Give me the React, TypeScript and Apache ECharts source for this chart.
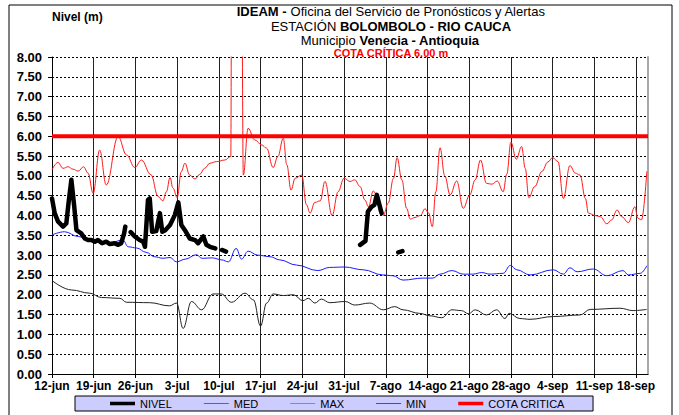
import React, { useEffect, useRef } from "react";
import * as echarts from "echarts";

// x values are days counted from 12-jun
const xTickLabels = ["12-jun", "19-jun", "26-jun", "3-jul", "10-jul", "17-jul", "24-jul", "31-jul", "7-ago", "14-ago", "21-ago", "28-ago", "4-sep", "11-sep", "18-sep"];

const nivel: (number | null)[][] = [
  [0, 4.43], [0.45, 4.06], [1, 3.85], [1.85, 3.72], [2.4, 3.8], [2.8, 4.35], [3.25, 4.9], [3.7, 4.27], [4.1, 3.63], [4.9, 3.55], [5.5, 3.42], [6.05, 3.38], [6.6, 3.38], [7.2, 3.34], [7.7, 3.38], [8.4, 3.3], [9.1, 3.34], [9.7, 3.28], [10.5, 3.3], [11.1, 3.26], [11.6, 3.3], [12.1, 3.55], [12.3, 3.72],
  [12.7, null],
  [13.2, 3.58], [13.9, 3.47], [14.7, 3.38], [15.3, 3.34], [15.6, 3.21], [16.1, 4.39], [16.4, 4.43], [16.8, 3.59], [17.5, 3.61], [18.1, 4.06], [18.5, 3.59], [19, 3.63], [19.8, 3.76], [20.6, 4.01], [21.2, 4.33], [21.7, 3.76], [22.3, 3.63], [23.1, 3.42], [24, 3.38], [24.5, 3.3], [25.4, 3.47], [25.9, 3.26], [26.5, 3.21], [27.4, 3.17],
  [28, null],
  [28.5, 3.13], [29.2, 3.09],
  [40, null],
  [51.7, 3.26], [52.6, 3.36], [53, 4.1], [53.6, 4.22], [54.1, 4.27], [54.5, 4.52], [55.3, 4.06],
  [56.5, null],
  [58.1, 3.07], [58.8, 3.1],
];

const med: number[][] = [
  [0, 3.51], [2.1, 3.59], [4.4, 3.47], [7, 3.34], [9.5, 3.3], [11.9, 3.38], [12.8, 3.21], [14.2, 3.18], [15.8, 3.07], [17.2, 2.96], [18.6, 2.92], [19.8, 2.94], [20.9, 2.83], [22.4, 2.9], [24.2, 3.01], [25.2, 2.92], [26.9, 2.93], [28.5, 2.88], [29.6, 2.83], [30.9, 3.17], [31.8, 2.9], [32.9, 3.1], [34.5, 3.0], [36.6, 2.96], [38.2, 2.88], [41, 2.75], [44.6, 2.61], [46.6, 2.69], [49.1, 2.7], [52.2, 2.63], [55.5, 2.5], [57.2, 2.48], [58.9, 2.37], [62.2, 2.42], [63.9, 2.42], [65.1, 2.52], [67.1, 2.61], [69, 2.52], [70.6, 2.52], [72.1, 2.56], [73.5, 2.52], [75.7, 2.54], [76.9, 2.74], [78, 2.63], [80.2, 2.5], [84.1, 2.63], [85.8, 2.52], [86.9, 2.68], [88.1, 2.58], [90.8, 2.65], [93.1, 2.48], [95.8, 2.61], [96.7, 2.5], [98.7, 2.54], [99.8, 2.73],
];

const max: number[][] = [
  [0, 5.15], [1, 5.34], [1.85, 5.19], [2.7, 5.23], [3.5, 5.17], [4.4, 5.12], [5.3, 5.23], [6.05, 5.07], [6.9, 4.56], [8, 5.65], [9.1, 4.77], [11.1, 5.99], [12.5, 5.53], [13.9, 5.21], [15, 5.4], [16.6, 5.03], [17.8, 4.48], [18.6, 4.37], [19.2, 4.6], [19.8, 4.96], [20.3, 4.69], [21, 4.45], [21.7, 5.11], [22.3, 5.32], [23.1, 5.02], [24, 4.92], [24.8, 5.04], [25.6, 5.19], [26.5, 5.32], [27.6, 5.36], [29, 5.4], [30, 5.49], [30.15, 11], [31.8, 11], [32.1, 5.02], [32.9, 6.2], [34, 5.91], [35.2, 5.78], [36, 5.7], [37.1, 5.21], [37.9, 5.49], [38.8, 5.95], [39.4, 5.28], [40.1, 4.64], [40.8, 4.94], [41.9, 5.02], [42.7, 4.27], [43.3, 4.06], [44.1, 4.33], [45, 4.37], [45.8, 4.86], [47, 4.0], [48, 4.6], [49, 4.94], [50, 4.86], [50.8, 4.9], [51.7, 4.73], [52.5, 4.39], [53.1, 4.22], [53.9, 4.62], [54.5, 4.52], [55, 4.08], [55.6, 4.0], [56.4, 4.31], [57.3, 4.94], [57.9, 5.46], [58.7, 4.9], [59.5, 4.18], [60.1, 3.91], [60.9, 3.95], [61.8, 4.0], [62.6, 4.17], [63.2, 4.06], [63.8, 3.72], [64.4, 4.6], [65.1, 5.71], [65.9, 5.0], [66.8, 4.52], [67.9, 4.87], [69, 4.18], [70.1, 4.52], [71, 4.9], [71.9, 5.4], [72.9, 4.81], [73.8, 4.79], [74.7, 4.87], [75.7, 4.6], [76.3, 5.04], [77, 5.85], [77.9, 5.42], [78.8, 5.74], [79.4, 5.19], [80, 4.45], [81, 4.73], [82.2, 5.11], [83.2, 5.35], [84, 5.46], [84.9, 5.36], [85.8, 4.43], [86.9, 5.26], [87.8, 5.07], [88.6, 5.02], [89.5, 4.43], [90, 4.06], [91.1, 4.0], [92, 3.97], [93.1, 3.79], [93.9, 3.89], [94.8, 4.14], [95.6, 3.97], [96.7, 3.82], [97.8, 4.22], [98.3, 3.93], [98.9, 3.89], [99.8, 5.11],
];

const min: number[][] = [
  [0, 2.36], [3.3, 2.12], [6.3, 2.04], [8.3, 1.93], [11.4, 1.91], [12.5, 1.81], [16.4, 1.8], [19.7, 1.72], [20.9, 1.79], [22, 1.15], [23.4, 1.83], [25.1, 1.62], [27, 2.02], [28.4, 2.02], [30.1, 1.81], [32.4, 2.04], [33.8, 1.87], [35, 1.21], [36, 1.79], [37.1, 2.02], [38.8, 1.98], [40.5, 2.0], [42.1, 1.85], [43, 1.91], [44.1, 1.79], [45.2, 1.89], [46.6, 1.8], [49.2, 1.83], [50.8, 1.74], [53.3, 1.79], [55.6, 1.62], [57.5, 1.7], [58.9, 1.62], [61.7, 1.53], [63.4, 1.47], [65.4, 1.42], [67.1, 1.62], [68.7, 1.6], [69.9, 1.52], [71, 1.62], [72.9, 1.49], [74.6, 1.62], [76, 1.4], [76.7, 1.53], [78.5, 1.4], [80.2, 1.38], [84.1, 1.45], [88.6, 1.49], [90.3, 1.63], [95.3, 1.66], [97.5, 1.6], [99.8, 1.63],
];

const cotaCritica: number[][] = [[0, 6], [100, 6]];

const FONT = "'Liberation Sans', Arial, sans-serif";

// legend icons: invisible corner specks fix the 25x10 box, the bar is the visible line
const ICON_THIN = "path://M0,0h0.01v0.01h-0.01z M24.99,9.99h0.01v0.01h-0.01z M0,4.4h25v1.2h-25z";
const ICON_THICK = "path://M0,0h0.01v0.01h-0.01z M24.99,9.99h0.01v0.01h-0.01z M0,3.2h25v3.6h-25z";

export default function App() {
  const ref = useRef<HTMLDivElement>(null);
  useEffect(() => {
    document.body.style.margin = "0";
    if (!ref.current) return;
    const chart = echarts.init(ref.current, null, { renderer: "svg" });
    const titleRich = {
      b: { fontFamily: FONT, fontSize: 13, fontWeight: "bold", fill: "#000", lineHeight: 13 },
      n: { fontFamily: FONT, fontSize: 13, fill: "#000", lineHeight: 13 },
    };
    chart.setOption({
      animation: false,
      backgroundColor: "#fff",
      grid: { left: 52, right: 31, top: 57, bottom: 41, containLabel: false },
      legend: {
        left: 75,
        bottom: 4,
        backgroundColor: "#ccccff",
        borderColor: "#000",
        borderWidth: 1,
        borderRadius: 0,
        padding: [2, 28, 2, 35],
        itemGap: 32,
        itemWidth: 25,
        itemHeight: 10,
        selectedMode: false,
        textStyle: { fontFamily: FONT, fontSize: 11, color: "#000" },
        data: [
          { name: "NIVEL", icon: ICON_THICK, itemStyle: { color: "#000" } },
          { name: "MED", icon: ICON_THIN, itemStyle: { color: "#5555ff" } },
          { name: "MAX", icon: ICON_THIN, itemStyle: { color: "#e8607a" } },
          { name: "MIN", icon: ICON_THIN, itemStyle: { color: "#555" } },
          { name: "COTA CRITICA", icon: ICON_THICK, itemStyle: { color: "#ff0000" } },
        ],
      },
      xAxis: {
        type: "value",
        min: 0,
        max: 100,
        interval: 7,
        axisLine: { lineStyle: { color: "#000", width: 1 } },
        axisTick: { show: true, length: 4, lineStyle: { color: "#000" } },
        axisLabel: {
          fontFamily: FONT,
          fontSize: 12,
          fontWeight: "bold",
          color: "#000",
          margin: 6,
          formatter: (v: number) => xTickLabels[Math.round(v / 7)] ?? "",
        },
        splitLine: { show: true, lineStyle: { color: "#222", width: 1, type: "solid" } },
      },
      yAxis: [
        {
          type: "value",
          min: 0,
          max: 8,
          interval: 0.5,
          axisLine: { show: true, lineStyle: { color: "#000", width: 1 } },
          axisTick: { show: true, length: 4, lineStyle: { color: "#000" } },
          axisLabel: {
            fontFamily: FONT,
            fontSize: 13,
            fontWeight: "bold",
            color: "#000",
            margin: 10,
            formatter: (v: number) => v.toFixed(2),
          },
          splitLine: { show: true, lineStyle: { color: "#000", width: 1, type: [2, 2] } },
        },
        {
          type: "value",
          position: "right",
          min: 0,
          max: 8,
          interval: 0.5,
          axisLine: { show: true, lineStyle: { color: "#a8a8a8", width: 2 } },
          axisTick: { show: false },
          axisLabel: { show: false },
          splitLine: { show: false },
        },
      ],
      series: [
        {
          name: "NIVEL",
          type: "line",
          data: nivel,
          symbol: "none",
          connectNulls: false,
          lineStyle: { color: "#000", width: 4.5, cap: "round", join: "round" },
          itemStyle: { color: "#000" },
          z: 5,
        },
        {
          name: "MED",
          type: "line",
          data: med,
          symbol: "none",
          smooth: 0.4,
          smoothMonotone: "x",
          lineStyle: { color: "#1a1aff", width: 1 },
          itemStyle: { color: "#1a1aff" },
          z: 3,
        },
        {
          name: "MAX",
          type: "line",
          data: max,
          symbol: "none",
          smooth: 0.4,
          smoothMonotone: "x",
          lineStyle: { color: "#ff1a1a", width: 1 },
          itemStyle: { color: "#ff1a1a" },
          z: 3,
        },
        {
          name: "MIN",
          type: "line",
          data: min,
          symbol: "none",
          smooth: 0.4,
          smoothMonotone: "x",
          lineStyle: { color: "#222", width: 1 },
          itemStyle: { color: "#222" },
          z: 3,
        },
        {
          name: "COTA CRITICA",
          type: "line",
          data: cotaCritica,
          symbol: "none",
          lineStyle: { color: "#ff0000", width: 4 },
          itemStyle: { color: "#ff0000" },
          z: 4,
        },
      ],
      graphic: [
        {
          type: "rect",
          shape: { x: 9, y: 5, width: 663, height: 420 },
          style: { fill: "none", stroke: "#000", lineWidth: 1 },
          silent: true,
        },
        {
          type: "text",
          x: 52,
          y: 17,
          style: { text: "Nivel (m)", fontFamily: FONT, fontSize: 12, fontWeight: "bold", fill: "#000", verticalAlign: "middle" },
        },
        {
          type: "text",
          x: 391,
          y: 11.5,
          style: { text: "{b|IDEAM - }{n|Oficina del Servicio de Pronósticos y Alertas}", rich: titleRich, align: "center", verticalAlign: "middle" },
        },
        {
          type: "text",
          x: 391,
          y: 26,
          style: { text: "{n|ESTACIÓN }{b|BOLOMBOLO - RIO CAUCA}", rich: titleRich, align: "center", verticalAlign: "middle" },
        },
        {
          type: "text",
          x: 390,
          y: 40,
          style: { text: "{n|Municipio }{b|Venecia - Antioquia}", rich: titleRich, align: "center", verticalAlign: "middle" },
        },
        {
          type: "text",
          x: 391,
          y: 53,
          style: { text: "COTA CRÍTICA 6.00 m", fontFamily: FONT, fontSize: 11, lineHeight: 11, fontWeight: "bold", fill: "#ff0000", align: "center", verticalAlign: "middle" },
        },
      ],
    });
    return () => chart.dispose();
  }, []);
  return <div ref={ref} style={{ width: 679, height: 415 }} />;
}
